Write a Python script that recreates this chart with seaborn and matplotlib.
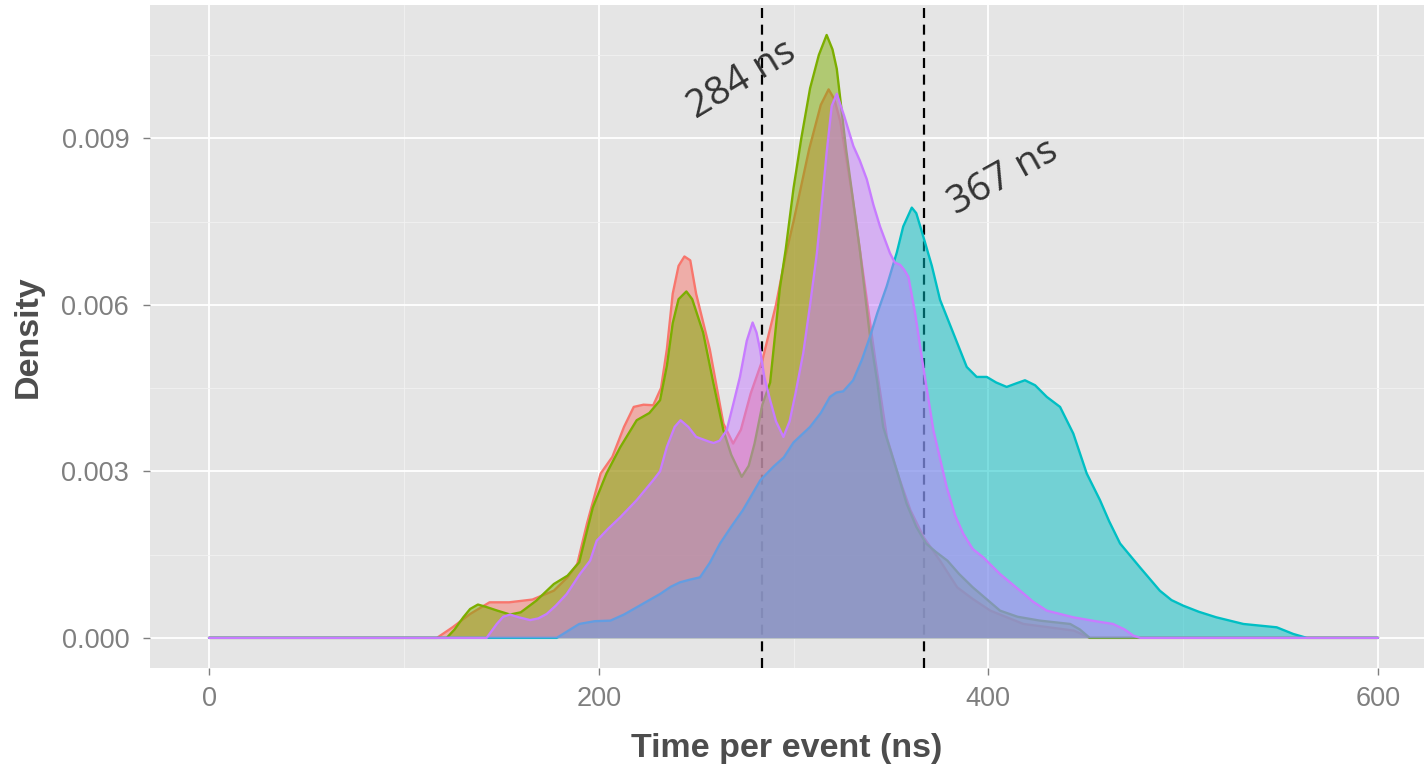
import numpy as np
import pandas as pd
import matplotlib
matplotlib.use("Agg")
import matplotlib.pyplot as plt
import seaborn as sns

# ---------------- data ----------------
series_names = ["A", "B", "C", "D"]
series_colors = ["#F8766D", "#7CAE00", "#00BFC4", "#C77CFF"]

red_x = [0, 117, 125, 134, 144, 154, 166, 177, 184, 189, 194, 201, 207, 213, 218, 223, 228, 232, 235, 238, 241, 244, 247, 250, 257, 264, 269, 273, 278, 284, 291, 296, 300, 308, 314, 318, 321, 324, 330, 336, 342, 348, 354, 360, 367, 375, 384, 392, 401, 418, 444, 452, 600]
red_y = [0, 0, 0.19, 0.43, 0.64, 0.64, 0.69, 0.85, 1.09, 1.33, 2.06, 2.96, 3.26, 3.8, 4.16, 4.2, 4.19, 4.5, 5.2, 6.2, 6.7, 6.87, 6.8, 6.2, 5.2, 3.86, 3.5, 3.75, 4.4, 5.0, 6.0, 6.9, 7.5, 8.8, 9.6, 9.88, 9.7, 9.3, 8.0, 6.5, 5.0, 3.6, 2.9, 2.3, 1.8, 1.4, 0.91, 0.7, 0.49, 0.25, 0.13, 0, 0]

green_x = [0, 122, 126, 130.5, 134, 138, 142, 148, 154.5, 160, 168, 177, 184, 190, 197, 204, 211, 219.5, 226, 231.5, 235, 238, 241, 245, 248, 253.6, 258.8, 264, 268, 273.4, 277, 280, 284, 288, 293, 296, 300, 304, 308.5, 313, 317, 320, 322.2, 327, 334, 339, 343, 346, 350, 354, 358, 363, 368, 373, 379, 385, 392, 399, 406, 415, 426.5, 442, 447, 452, 600]
green_y = [0, 0, 0.15, 0.37, 0.52, 0.60, 0.56, 0.49, 0.42, 0.46, 0.67, 0.97, 1.12, 1.36, 2.35, 2.96, 3.43, 3.92, 4.05, 4.28, 4.9, 5.67, 6.1, 6.24, 6.1, 5.5, 4.6, 3.74, 3.3, 2.9, 3.1, 3.5, 4.2, 4.6, 6.3, 7.0, 8.1, 9.0, 9.9, 10.5, 10.86, 10.6, 10.25, 8.8, 7.0, 5.5, 4.6, 3.8, 3.35, 2.9, 2.42, 2.0, 1.7, 1.55, 1.39, 1.15, 0.91, 0.7, 0.49, 0.38, 0.31, 0.25, 0.15, 0, 0]

cyan_x = [0, 178.5, 184, 190, 198, 206, 213, 219.5, 226, 231.5, 237, 241.7, 247, 252, 257, 262.3, 268, 274, 279, 283, 289.6, 295, 300, 308.5, 314, 318.7, 322, 325.5, 330.6, 335, 339.3, 343, 347.8, 353, 356.3, 360.7, 363, 366.6, 371, 375.2, 382, 388.9, 394, 399.2, 404, 409.4, 414, 418.8, 424, 430, 436.8, 443.6, 450.5, 457.3, 462, 467.6, 477.8, 488, 494, 500, 508, 517, 530.9, 548, 556.5, 563.4, 600]
cyan_y = [0, 0, 0.12, 0.25, 0.3, 0.31, 0.42, 0.55, 0.68, 0.79, 0.92, 1.0, 1.05, 1.09, 1.35, 1.7, 2.0, 2.3, 2.6, 2.84, 3.08, 3.25, 3.52, 3.8, 4.05, 4.34, 4.42, 4.44, 4.64, 5.0, 5.43, 5.85, 6.33, 6.94, 7.41, 7.75, 7.65, 7.23, 6.7, 6.09, 5.49, 4.88, 4.7, 4.7, 4.6, 4.52, 4.58, 4.64, 4.55, 4.34, 4.16, 3.68, 2.96, 2.48, 2.1, 1.7, 1.27, 0.85, 0.68, 0.58, 0.47, 0.37, 0.25, 0.19, 0.07, 0, 0]

purple_x = [0, 142.5, 147.7, 151, 154.5, 159, 164.8, 169, 173.3, 178, 183.6, 190.4, 195.6, 199, 205, 211, 219.5, 228, 231.5, 235, 239, 242, 246, 250, 257, 259, 262, 265.7, 269, 272.5, 276, 279, 281, 282.8, 285, 288, 291, 294.8, 298, 301, 305, 308.5, 312, 315, 317, 319.6, 322.2, 326, 330.7, 334, 337.6, 341, 344.4, 349.5, 352, 354.7, 357, 359, 362.4, 366.6, 371.8, 378.6, 383, 387.2, 392, 397.4, 406, 416.3, 423, 430, 443.6, 455, 464, 470, 474.4, 478, 600]
purple_y = [0, 0, 0.25, 0.38, 0.42, 0.37, 0.32, 0.35, 0.43, 0.58, 0.79, 1.15, 1.39, 1.75, 1.97, 2.17, 2.48, 2.84, 3.0, 3.44, 3.8, 3.92, 3.8, 3.62, 3.53, 3.51, 3.55, 3.74, 4.2, 4.7, 5.35, 5.68, 5.5, 5.2, 4.7, 4.28, 3.9, 3.62, 3.9, 4.4, 5.13, 6.0, 6.93, 8.0, 8.74, 9.58, 9.8, 9.4, 8.86, 8.6, 8.26, 7.8, 7.41, 6.93, 6.76, 6.72, 6.62, 6.5, 5.85, 4.88, 3.74, 2.72, 2.2, 1.87, 1.6, 1.45, 1.15, 0.85, 0.65, 0.49, 0.37, 0.3, 0.25, 0.15, 0.04, 0, 0]

vline_values = [284, 367]
vline_labels = ["284 ns", "367 ns"]

x_ticks = [0, 200, 400, 600]
x_tick_labels = ["0", "200", "400", "600"]
y_ticks = [0.0, 0.003, 0.006, 0.009]
y_tick_labels = ["0.000", "0.003", "0.006", "0.009"]

x_title = "Time per event (ns)"
y_title = "Density"

# ---------------- build frame ----------------
frames = []
for name, xs, ys in zip(series_names,
                        [red_x, green_x, cyan_x, purple_x],
                        [red_y, green_y, cyan_y, purple_y]):
    frames.append(pd.DataFrame({"time": xs, "density": np.array(ys) * 1e-3, "group": name}))
df = pd.concat(frames, ignore_index=True)

# ---------------- style ----------------
sns.set_theme(style="darkgrid")
plt.rcParams["font.family"] = ["Liberation Sans", "DejaVu Sans"]

W, H = 1424, 770
fig = plt.figure(figsize=(W / 100, H / 100), dpi=100)
fig.patch.set_facecolor("white")
left, right, top, bottom = 150, 1424, 5, 668
ax = fig.add_axes([left / W, 1 - bottom / H, (right - left) / W, (bottom - top) / H])
ax.set_facecolor("#E5E5E5")
for s in ax.spines.values():
    s.set_visible(False)

ax.set_xlim(-30.3, 623.6)
ax.set_ylim(-0.000543, 0.0114)

ax.set_xticks(x_ticks)
ax.set_xticklabels(x_tick_labels)
ax.set_yticks(y_ticks)
ax.set_yticklabels(y_tick_labels)
ax.set_xticks([100, 300, 500], minor=True)
ax.set_yticks([0.0015, 0.0045, 0.0075, 0.0105], minor=True)
ax.grid(which="major", color="white", linewidth=1.3, zorder=0)
ax.grid(which="minor", color="#F2F2F2", linewidth=0.6, zorder=0)
ax.set_axisbelow(True)
ax.tick_params(axis="both", which="major", length=5, width=1.0, color="#7F7F7F",
               labelcolor="#7F7F7F", labelsize=19.5, bottom=True, left=True)
ax.tick_params(axis="y", which="major", pad=10)
ax.tick_params(axis="x", which="major", pad=8)
ax.tick_params(axis="both", which="minor", length=0)

# dashed reference lines (beneath the densities)
for v in vline_values:
    ax.axvline(v, color="black", linestyle=(0, (4.5, 3)), linewidth=1.6, zorder=1)

# densities
z = 2
for name, col in zip(series_names, series_colors):
    sub = df[df["group"] == name]
    ax.fill_between(sub["time"], 0, sub["density"], color=col, alpha=0.5, linewidth=0, zorder=z)
    sns.lineplot(data=sub, x="time", y="density", color=col, linewidth=1.7, ax=ax,
                 estimator=None, sort=False, zorder=z + 0.5, legend=False)
    z += 1

ax.set_xlabel("")
ax.set_ylabel("")

# annotations
ax.text(273.5, 0.01005, vline_labels[0], rotation=31, ha="center", va="center",
        fontsize=28, color="#333333", family=["Open Sans", "DejaVu Sans"], zorder=10)
ax.text(407.5, 0.00829, vline_labels[1], rotation=29, ha="center", va="center",
        fontsize=28, color="#333333", family=["Open Sans", "DejaVu Sans"], zorder=10)

# axis titles
fig.text(787 / W, 1 - 748 / H, x_title, ha="center", va="center", fontsize=24.5,
         fontweight="bold", color="#4D4D4D")
fig.text(28 / W, 1 - 337 / H, y_title, ha="center", va="center", rotation=90,
         fontsize=24.5, fontweight="bold", color="#4D4D4D")

fig.savefig("out.png", dpi=100)
